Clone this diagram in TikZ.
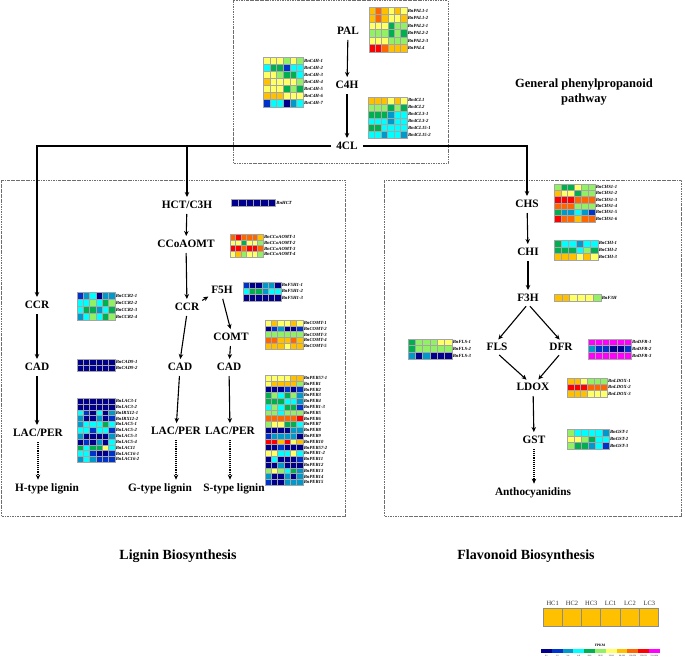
\documentclass[tikz,border=0pt]{standalone}
\usepackage{fontspec}
\setmainfont{Liberation Serif}
\usetikzlibrary{arrows.meta,calc}

\definecolor{h0}{RGB}{0,0,140}
\definecolor{h1}{RGB}{0,51,204}
\definecolor{h2}{RGB}{0,153,204}
\definecolor{h3}{RGB}{0,255,255}
\definecolor{h4}{RGB}{0,176,80}
\definecolor{h5}{RGB}{146,240,100}
\definecolor{h6}{RGB}{255,255,102}
\definecolor{h7}{RGB}{255,192,0}
\definecolor{h8}{RGB}{255,102,0}
\definecolor{h9}{RGB}{255,0,0}
\definecolor{h10}{RGB}{255,0,255}
\definecolor{cellgray}{RGB}{165,165,165}
\definecolor{boxgray}{RGB}{110,110,110}
\definecolor{leggray}{RGB}{140,140,140}

\tikzset{
  enz/.style={font=\fontsize{11.3}{12}\selectfont\bfseries, inner sep=2pt},
  ttl/.style={font=\fontsize{14}{16}\selectfont\bfseries, align=center},
  gttl/.style={font=\fontsize{12.5}{15}\selectfont\bfseries, align=center},
  genelab/.style={font=\fontsize{4.7}{5}\selectfont\bfseries\itshape, anchor=west, inner sep=0pt},
  leglab/.style={font=\fontsize{6.5}{7}\selectfont, text=black!80, inner sep=0pt},
  tinylab/.style={font=\fontsize{2}{2.5}\selectfont, inner sep=0pt},
  conn/.style={line width=1.1pt, -{Stealth[length=5pt,width=4.5pt]}, shorten <=3pt, shorten >=2pt},
  dconn/.style={conn, densely dotted},
  pathbox/.style={draw=boxgray, line width=0.6pt, dash pattern=on 2.5pt off 1pt on 0.6pt off 1pt},
}

\newcommand{\heatmap}[6]{%
  \foreach \hrow [count=\r] in {#5} {%
    \foreach \hc [count=\k] in \hrow {%
      \filldraw[fill=h\hc, draw=cellgray, line width=0.4pt] ({#1+(\k-1)*#3},{#2+(\r-1)*#4}) rectangle ++(#3,#4);
    }%
  }%
  \foreach \hl [count=\r] in {#6} {%
    \node[genelab] (\hl) at ({#1+6*#3+0.8},{#2+(\r-0.5)*#4}) {\hl};
  }%
}

\begin{document}
\begin{tikzpicture}[x=1pt,y=-1pt]
\useasboundingbox (0,0) rectangle (685,657);

% boxes
\draw[pathbox] (233,0.5) rectangle (448,163);
\draw[pathbox] (1,180) rectangle (345,516);
\draw[pathbox] (384,180) rectangle (681,516);

% general pathway
\node[enz] (PAL) at (348,31) {PAL};
\node[enz] (C4H) at (347,85) {C4H};
\node[enz] (fourCL) at (347,146) {4CL};

% lignin H
\node[enz] (CCRh) at (37,305) {CCR};
\node[enz] (CADh) at (37,367) {CAD};
\node[enz] (LACh) at (38,433) {LAC/PER};
\node[enz] (Hlig) at (47,489) {H-type lignin};

% lignin G/S
\node[enz] (HCT) at (187,205) {HCT/C3H};
\node[enz] (CCoA) at (186,244) {CCoAOMT};
\node[enz] (CCRg) at (187,307) {CCR};
\node[enz] (F5H) at (222,290) {F5H};
\node[enz] (COMT) at (231,337) {COMT};
\node[enz] (CADg) at (180,367) {CAD};
\node[enz] (CADs) at (229,367) {CAD};
\node[enz] (LACg) at (176,431) {LAC/PER};
\node[enz] (LACs) at (230,431) {LAC/PER};
\node[enz] (Glig) at (160,489) {G-type lignin};
\node[enz] (Slig) at (234,489) {S-type lignin};

% flavonoid
\node[enz] (CHS) at (527,204) {CHS};
\node[enz] (CHI) at (528,252) {CHI};
\node[enz] (F3H) at (528,298) {F3H};
\node[enz] (FLS) at (497,347) {FLS};
\node[enz] (DFR) at (561,347) {DFR};
\node[enz] (LDOX) at (533,387) {LDOX};
\node[enz] (GST) at (534,440) {GST};
\node[enz] (Antho) at (533,493) {Anthocyanidins};

% titles
\node[gttl] (general) at (584,92) {General phenylpropanoid\\pathway};
\node[ttl] (lignin) at (178,556) {Lignin Biosynthesis};
\node[ttl] (flav) at (526,556) {Flavonoid Biosynthesis};

% connectors
\draw[conn] (PAL) -- (C4H);
\draw[conn] (C4H) -- (fourCL);
\draw[conn] (fourCL.west) -| (CCRh.north);
\draw[conn] (fourCL.west) -| (HCT.north);
\draw[conn] (fourCL.east) -| (CHS.north);

\draw[conn] (CCRh) -- (CADh);
\draw[conn] (CADh) -- (CADh |- LACh.north);
\draw[dconn] (LACh.south) -- (LACh.south |- Hlig.north);

\draw[conn] (HCT) -- (CCoA);
\draw[conn] (CCoA) -- (CCRg);
\draw[conn, shorten <=1pt, shorten >=1pt] (CCRg.north east) -- (F5H.south west);
\draw[conn] (F5H.south) -- (COMT.north);
\draw[conn] (COMT) -- (CADs);
\draw[conn] (CCRg.south) -- (CADg.north);
\draw[conn] (CADg) -- (LACg);
\draw[conn] (CADs) -- (LACs);
\draw[dconn] (LACg.south) -- (LACg.south |- Glig.north);
\draw[dconn] (LACs.south) -- (LACs.south |- Slig.north);

\draw[conn] (CHS) -- (CHI);
\draw[conn] (CHI) -- (F3H);
\draw[conn] (F3H.south) -- (FLS.north);
\draw[conn] (F3H.south) -- (DFR.north);
\draw[conn] (FLS.south) -- ($(LDOX.north)+(-5,0)$);
\draw[conn] (DFR.south) -- ($(LDOX.north)+(4,0)$);
\draw[conn] (LDOX) -- (GST);
\draw[dconn] (GST.south) -- (GST.south |- Antho.north);

% heatmaps
\heatmap{369}{7}{6.3}{7.5}{{7,8,7,6,7,6},{7,8,7,6,6,7},{6,6,6,4,5,5},{5,5,5,4,5,4},{6,6,6,5,5,5},{9,9,8,7,7,7}}{BnPAL1-1,BnPAL1-2,BnPAL2-1,BnPAL2-2,BnPAL2-3,BnPAL4}
\heatmap{263}{57}{6.7}{7.1}{{6,6,6,5,6,5},{3,4,4,1,3,3},{6,6,5,4,4,3},{7,6,6,6,6,5},{6,6,6,4,5,4},{7,7,7,6,6,6},{1,3,3,0,2,3}}{BnC4H-1,BnC4H-2,BnC4H-3,BnC4H-4,BnC4H-5,BnC4H-6,BnC4H-7}
\heatmap{368}{97}{6.5}{6.9}{{7,7,7,6,7,6},{5,5,5,4,5,4},{4,4,4,2,3,3},{3,3,3,2,3,3},{4,4,3,3,3,3},{3,3,2,3,3,2}}{Bn4CL1,Bn4CL2,Bn4CL3-1,Bn4CL3-2,Bn4CL15-1,Bn4CL15-2}
\heatmap{231}{199}{7.4}{7.5}{{0,0,0,0,0,0}}{BnHCT}
\heatmap{230}{234}{5.5}{5.8}{{8,9,8,8,8,7},{6,6,4,6,6,5},{9,9,8,9,9,8},{6,7,5,6,6,5}}{BnCCoAOMT-1,BnCCoAOMT-2,BnCCoAOMT-3,BnCCoAOMT-4}
\heatmap{243}{282}{6.3}{6.3}{{1,0,0,2,2,0},{3,4,4,2,3,3},{0,0,0,0,0,0}}{BnF5H1-1,BnF5H1-2,BnF5H1-3}
\heatmap{265}{320}{6.3}{5.8}{{6,7,6,6,7,6},{0,1,2,0,0,1},{5,5,5,5,5,5},{8,8,7,7,8,7},{7,7,7,6,7,7}}{BnCOMT-1,BnCOMT-2,BnCOMT-3,BnCOMT-4,BnCOMT-5}
\heatmap{265}{375}{6.3}{5.8}{{6,6,6,6,7,7},{6,7,7,7,7,5},{0,0,0,1,0,1},{4,5,3,4,5,2},{4,4,4,3,3,2},{3,5,3,4,4,1},{5,5,3,5,5,5},{8,8,8,8,8,9},{5,6,6,4,4,3},{0,0,0,0,2,2},{1,2,2,2,2,0},{9,9,7,9,6,7},{0,0,1,0,0,0},{6,6,3,3,6,3},{0,3,0,0,0,1},{0,0,2,0,0,0},{5,6,5,3,4,2},{2,0,0,2,0,2},{1,0,0,2,2,2}}{BnPER57-1,BnPER1,BnPER2,BnPER3,BnPER4,BnPER1-3,BnPER5,BnPER6,BnPER7,BnPER8,BnPER9,BnPER10,BnPER57-2,BnPER1-2,BnPER11,BnPER12,BnPER13,BnPER14,BnPER15}
\heatmap{77}{292}{6.3}{7}{{1,2,3,0,2,2},{3,3,5,3,4,5},{3,4,4,2,3,4},{2,3,5,3,4,5}}{BnCCR2-1,BnCCR2-2,BnCCR2-3,BnCCR2-4}
\heatmap{77}{359}{6.3}{6}{{0,0,0,0,0,0},{0,0,0,0,0,0}}{BnCAD9-1,BnCAD9-2}
\heatmap{77}{398}{6.3}{5.85}{{0,0,0,0,0,0},{0,0,0,0,0,0},{3,1,0,3,0,2},{2,0,0,2,0,1},{2,3,3,3,4,3},{3,3,1,3,3,1},{2,0,0,0,0,2},{0,1,0,2,0,3},{4,3,4,4,6,3},{3,3,1,0,0,1},{2,3,2,1,1,1}}{BnLAC3-1,BnLAC3-2,BnIRX12-1,BnIRX12-2,BnLAC5-1,BnLAC5-2,BnLAC5-3,BnLAC5-4,BnLAC11,BnLAC16-1,BnLAC16-2}
\heatmap{554}{184}{6.8}{6.3}{{5,4,4,6,5,5},{7,6,6,4,5,5},{9,9,9,8,8,8},{8,8,8,5,5,5},{4,2,2,3,2,1},{9,8,8,7,8,8}}{BnCHS1-1,BnCHS1-2,BnCHS1-3,BnCHS1-4,BnCHS1-5,BnCHS1-6}
\heatmap{554}{240}{7.3}{6.7}{{4,3,3,2,3,3},{4,4,4,3,5,4},{7,7,7,6,7,6}}{BnCHI-1,BnCHI-2,BnCHI-3}
\heatmap{554}{294}{7.8}{7.3}{{7,7,6,6,6,5}}{BnF3H}
\heatmap{408}{339}{7.3}{6.6}{{4,5,5,5,6,6},{4,5,5,5,5,5},{2,0,2,0,0,0}}{BnFLS-1,BnFLS-2,BnFLS-3}
\heatmap{588}{339}{7.2}{6.6}{{10,10,10,10,10,10},{2,1,1,0,0,1},{10,10,10,10,10,10}}{BnDFR-1,BnDFR-2,BnDFR-3}
\heatmap{567}{378}{6.7}{6.3}{{7,7,6,5,5,5},{9,9,9,8,8,8},{7,7,7,6,6,6}}{BnLDOX-1,BnLDOX-2,BnLDOX-3}
\heatmap{567}{429}{7}{6.7}{{5,3,3,3,3,2},{6,6,5,4,3,3},{5,4,4,2,3,1}}{BnGST-1,BnGST-2,BnGST-3}

% legend
\foreach \lab [count=\i] in {HC1,HC2,HC3,LC1,LC2,LC3} {
  \filldraw[fill=h7, draw=leggray, line width=1pt] ({543+(\i-1)*19.33},608) rectangle ++(19.33,18);
  \node[leglab] (leg\lab) at ({543+(\i-0.5)*19.33},603) {\lab};
}
\foreach \i/\t in {0/0-1,1/1-2,2/2-4,3/4-8,4/8-16,5/16-32,6/32-64,7/64-128,8/128-256,9/256-512,10/512-1024} {
  \fill[h\i] ({541+\i*10.8},649) rectangle ++(10.8,4);
  \node[tinylab] (bar\i) at ({541+(\i+0.5)*10.8},655.5) {\t};
}
\node[font=\fontsize{3.5}{4}\selectfont\bfseries, inner sep=0pt] (fpkm) at (600,645.5) {FPKM};
\end{tikzpicture}
\end{document}
